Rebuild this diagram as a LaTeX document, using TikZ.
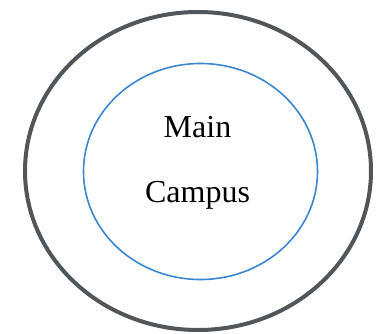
\documentclass[tikz,border=0pt]{standalone}
\usepackage{fontspec}
\setmainfont{Liberation Serif}
\definecolor{outergray}{HTML}{50565A}
\definecolor{innerblue}{HTML}{3A86D0}
\tikzset{
  outerring/.style={draw=outergray, line width=4pt},
  innerring/.style={draw=innerblue, line width=1.6pt},
  lbl/.style={font=\fontsize{32}{32}\selectfont, anchor=base}
}
\begin{document}
\begin{tikzpicture}[x=1pt,y=-1pt]
\useasboundingbox (0,0) rectangle (377,334);
\draw[outerring] (198,171) ellipse [x radius=173, y radius=159];
\draw[innerring] (200.5,171.5) ellipse [x radius=117, y radius=108];
\node[lbl] (main) at (197.5,137) {Main};
\node[lbl] (campus) at (197.5,202) {Campus};
\end{tikzpicture}
\end{document}
